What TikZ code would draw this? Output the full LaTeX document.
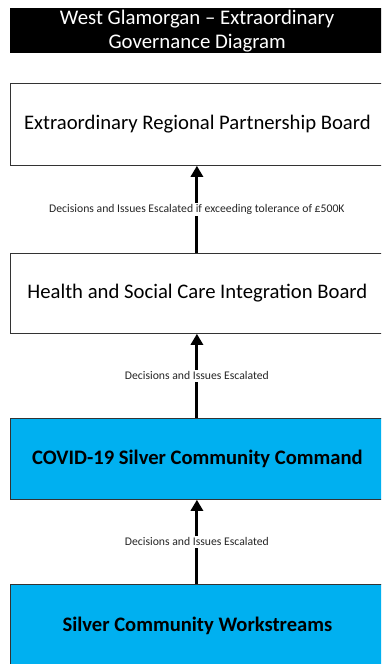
\documentclass[tikz,border=0pt]{standalone}
\usepackage{fontspec}
\setmainfont{Carlito}
\usetikzlibrary{arrows.meta}
\definecolor{silverblue}{HTML}{00B0F0}
\begin{document}
\begin{tikzpicture}[x=1pt,y=1pt,
  board/.style={draw=black!80, line width=0.8pt, minimum width=374pt, inner sep=0pt, anchor=north west, font=\fontsize{20.7}{24}\selectfont},
  cmdbox/.style={board, fill=silverblue, font=\fontsize{20.6}{24}\selectfont\bfseries},
  escalate/.style={-{Triangle[length=11pt,width=12pt]}, line width=3pt, black},
  esclabel/.style={fill=white, inner sep=1.5pt, font=\fontsize{11.7}{13}\selectfont, text=black!85}]
\clip (0,0) rectangle (381,664);
\fill[white] (0,0) rectangle (381,664);
% title banner
\node[fill=black, text=white, minimum width=375pt, minimum height=45pt, anchor=north west, inner sep=0pt,
      align=center, font=\fontsize{20.8}{24}\selectfont] (title) at (9.5,656)
  {West Glamorgan -- Extraordinary\\Governance Diagram};
% boards
\node[board, minimum height=82pt] (erpb) at (10,581) {Extraordinary Regional Partnership Board};
\node[board, minimum height=80pt] (hsc) at (10,411) {Health and Social Care Integration Board};
\node[cmdbox, minimum height=81pt] (silver) at (10,246) {COVID-19 Silver Community Command};
\node[cmdbox, minimum height=82pt] (work) at (10,80) {Silver Community Workstreams};
% escalation arrows
\draw[escalate] ([xshift=-0.5pt]hsc.north) -- ([xshift=-0.5pt]erpb.south)
  node[esclabel, pos=0.5] (lab1) {Decisions and Issues Escalated if exceeding tolerance of £500K};
\draw[escalate] ([xshift=-0.5pt]silver.north) -- ([xshift=-0.5pt]hsc.south)
  node[esclabel, pos=0.5] (lab2) {Decisions and Issues Escalated};
\draw[escalate] ([xshift=-0.5pt]work.north) -- ([xshift=-0.5pt]silver.south)
  node[esclabel, pos=0.5] (lab3) {Decisions and Issues Escalated};
\end{tikzpicture}
\end{document}
